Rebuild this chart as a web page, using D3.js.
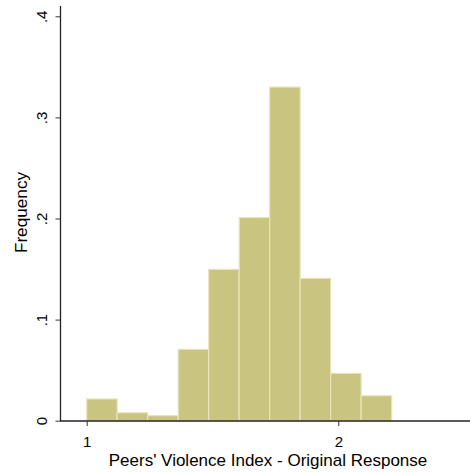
<!DOCTYPE html>
<html><head><meta charset="utf-8">
<script src="https://cdn.jsdelivr.net/npm/d3@7/dist/d3.min.js"></script>
<style>body{margin:0;background:#fff}svg{display:block}text{font-family:"Liberation Sans",Arial,sans-serif;fill:#000}</style>
</head><body>
<script>
const binStart = 1.0;
const binWidth = 0.1212;
const freqs = [0.0215, 0.0079, 0.005, 0.0706, 0.1497, 0.201, 0.330, 0.1408, 0.0469, 0.0247];
const yTicks = [0, 0.1, 0.2, 0.3, 0.4];
const yTickLabels = ["0", ".1", ".2", ".3", ".4"];
const xTicks = [1, 2];
const xLabel = "Peers' Violence Index - Original Response";
const yLabel = "Frequency";

const W = 470, H = 473;
const svg = d3.select("body").append("svg").attr("width", W).attr("height", H);

const x = d3.scaleLinear().domain([1, 2]).range([86.7, 338.3]);
const y = d3.scaleLinear().domain([0, 0.4]).range([420.7, 16.3]);

const bins = freqs.map((f, i) => ({x0: binStart + i * binWidth, x1: binStart + (i + 1) * binWidth, f}));

svg.append("g").selectAll("rect").data(bins).join("rect")
  .attr("x", d => x(d.x0))
  .attr("width", d => x(d.x1) - x(d.x0))
  .attr("y", d => y(d.f))
  .attr("height", d => y(0) - y(d.f))
  .attr("fill", "#c9c47f")
  .attr("stroke", "#e8e4bc")
  .attr("stroke-width", 1.2);

// Y axis
const yAxis = svg.append("g").attr("transform", "translate(60.5,0)")
  .call(d3.axisLeft(y).tickValues(yTicks).tickSize(5).tickFormat((d, i) => yTickLabels[i]));
yAxis.select(".domain").attr("d", "M0,6V421").attr("stroke", "#222").attr("stroke-width", 1.3);
yAxis.selectAll(".tick line").attr("stroke", "#333");
yAxis.selectAll(".tick text")
  .attr("font-size", 15).attr("fill", "#000")
  .attr("x", 0).attr("dy", 0)
  .attr("text-anchor", "middle")
  .attr("transform", "translate(-14,0) rotate(-90)");

// X axis
const xAxis = svg.append("g").attr("transform", "translate(0,421)")
  .call(d3.axisBottom(x).tickValues(xTicks).tickSize(5).tickFormat(d3.format("d")));
xAxis.select(".domain").attr("d", "M60,0H470").attr("stroke", "#222").attr("stroke-width", 1.3);
xAxis.selectAll(".tick line").attr("stroke", "#333");
xAxis.selectAll(".tick text").attr("font-size", 15).attr("fill", "#000").attr("y", 25.8).attr("dy", 0);

svg.append("text").attr("x", 268).attr("y", 465.5).attr("text-anchor", "middle")
  .attr("font-size", 17).text(xLabel);
svg.append("text").attr("transform", "translate(27.3,212.5) rotate(-90)").attr("text-anchor", "middle")
  .attr("font-size", 17.2).text(yLabel);
</script>
</body></html>
